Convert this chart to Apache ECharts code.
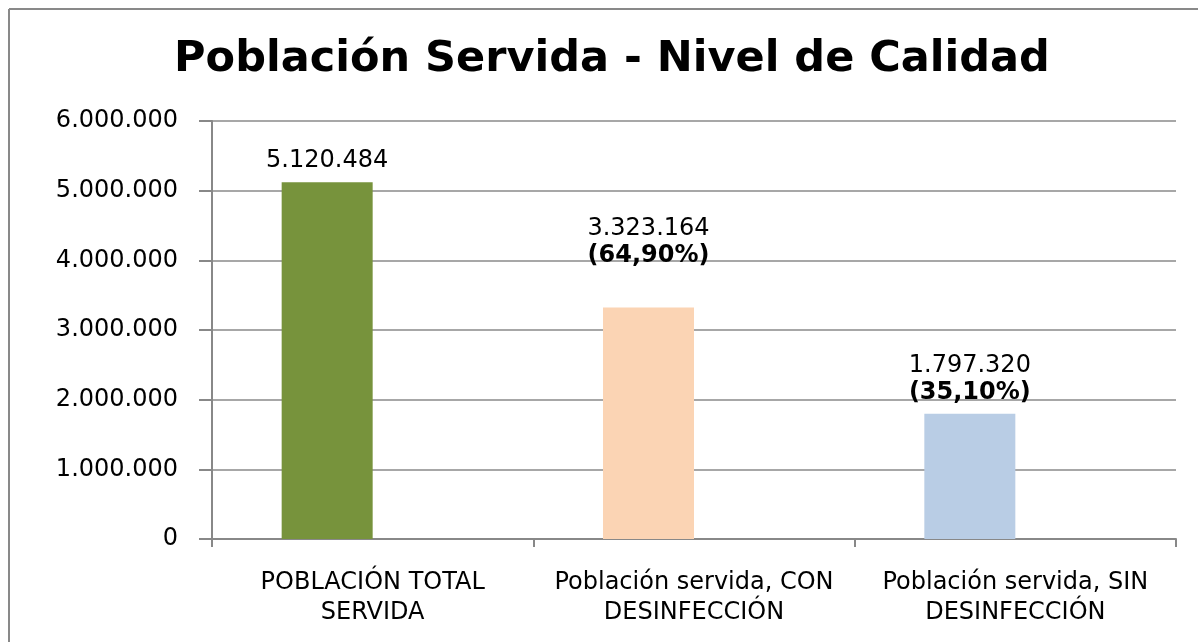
<!DOCTYPE html>
<html>
<head>
<meta charset="utf-8">
<title>Población Servida - Nivel de Calidad</title>
<script src="https://cdn.jsdelivr.net/npm/echarts@6/dist/echarts.min.js"></script>
<style>
    html, body { margin: 0; padding: 0; background: #fff; overflow: hidden; }
    #main_bar { width: 1198px; height: 642px; }
</style>
</head>
<body>
<div id="main_bar"></div>
<script>
// datos del grafico
var categorias = ['POBLACIÓN TOTAL\nSERVIDA', 'Población servida, CON\nDESINFECCIÓN', 'Población servida, SIN\nDESINFECCIÓN'];
var poblacion = [5120484, 3323164, 1797320];
var porcentajes = ['', '64,90%', '35,10%'];
var colores = ['#77933C', '#FBD4B4', '#B9CDE5'];
// segunda serie vacia (como en excel), deja las barras a la izquierda del centro
var serieVacia = [null, null, null];
var ejeY = [0, 1000000, 2000000, 3000000, 4000000, 5000000, 6000000];

var fuente = 'DejaVu Sans';

// 5120484 -> 5.120.484
function miles(n) {
    return String(n).replace(/\B(?=(\d{3})+(?!\d))/g, '.');
}

function chartBarShow() {
    var myChart = echarts.init(document.getElementById('main_bar'));

    var datos = [];
    for (var i = 0; i < poblacion.length; i++) {
        var item = {
            value: poblacion[i],
            itemStyle: { color: colores[i] }
        };
        // la etiqueta del medio esta subida a mano
        if (i == 1) {
            item.label = { offset: [0, -30] };
        }
        datos.push(item);
    }

    var option = {
        animation: false,
        backgroundColor: '#fff',
        textStyle: { fontFamily: fuente },
        graphic: [
            // marco del grafico (solo se ve arriba y a la izquierda)
            {
                type: 'line',
                shape: { x1: 9, y1: 9, x2: 1198, y2: 9 },
                style: { stroke: '#898989', lineWidth: 2 },
                silent: true
            },
            {
                type: 'line',
                shape: { x1: 9, y1: 9, x2: 9, y2: 642 },
                style: { stroke: '#898989', lineWidth: 2 },
                silent: true
            }
        ],
        title: {
            text: 'Población Servida - Nivel de Calidad',
            left: 607,
            textAlign: 'center',
            top: 33,
            textStyle: {
                fontFamily: fuente,
                fontSize: 43,
                fontWeight: 'bold',
                color: '#000'
            }
        },
        grid: {
            left: 212,
            right: 22,
            top: 121,
            bottom: 103,
            containLabel: false
        },
        xAxis: {
            type: 'category',
            data: categorias,
            axisLine: { lineStyle: { color: '#888', width: 2 } },
            axisTick: { show: true, length: 8, lineStyle: { color: '#888', width: 2 } },
            axisLabel: {
                interval: 0,
                margin: 29,
                color: '#000',
                fontFamily: fuente,
                fontSize: 24,
                lineHeight: 30
            }
        },
        yAxis: {
            type: 'value',
            min: ejeY[0],
            max: ejeY[ejeY.length - 1],
            interval: ejeY[1] - ejeY[0],
            axisLine: { show: true, lineStyle: { color: '#888', width: 2 } },
            axisTick: { show: true, length: 13, lineStyle: { color: '#888', width: 2 } },
            splitLine: { show: true, lineStyle: { color: '#8a8a8a', width: 1.5 } },
            axisLabel: {
                margin: 34,
                color: '#000',
                fontFamily: fuente,
                fontSize: 24,
                formatter: function (v) {
                    return miles(v);
                }
            }
        },
        series: [
            {
                name: 'Población',
                type: 'bar',
                barWidth: 91,
                barGap: '0%',
                data: datos,
                label: {
                    show: true,
                    position: 'top',
                    distance: 8,
                    color: '#000',
                    fontFamily: fuente,
                    fontSize: 24,
                    lineHeight: 27,
                    formatter: function (p) {
                        var txt = '{n|' + miles(p.value) + '}';
                        if (porcentajes[p.dataIndex]) {
                            txt += '\n{b|(' + porcentajes[p.dataIndex] + ')}';
                        }
                        return txt;
                    },
                    rich: {
                        n: { fontFamily: fuente, fontSize: 24, lineHeight: 27, color: '#000' },
                        b: { fontFamily: fuente, fontSize: 24, lineHeight: 27, fontWeight: 'bold', color: '#000' }
                    }
                }
            },
            {
                name: 'vacia',
                type: 'bar',
                barWidth: 91,
                data: serieVacia
            }
        ]
    };
    myChart.setOption(option);
}

chartBarShow();
</script>
</body>
</html>
